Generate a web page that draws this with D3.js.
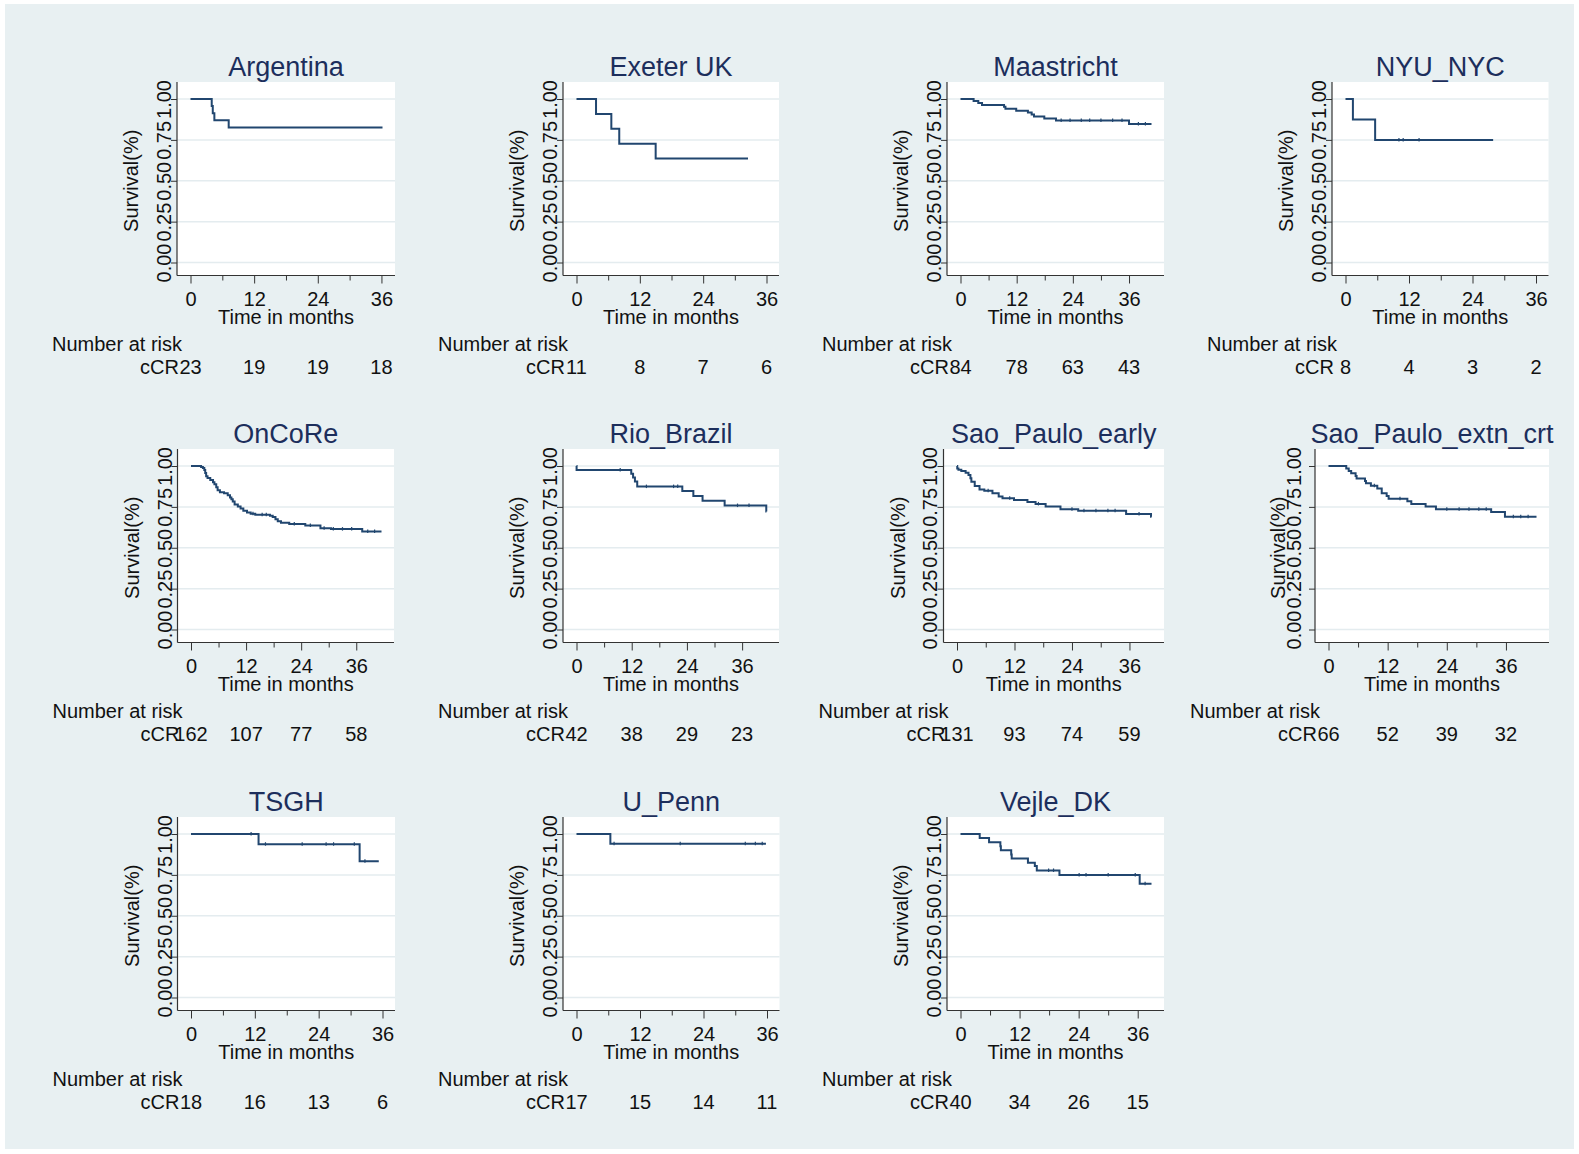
<!DOCTYPE html>
<html>
<head>
<meta charset="utf-8">
<script src="https://cdn.jsdelivr.net/npm/d3@7"></script>
<style>
  body { margin: 0; background: #fff; }
  text { font-family: "Liberation Sans", Arial, sans-serif; }
</style>
</head>
<body>
<svg id="chart" width="1579" height="1154"></svg>
<script>
// sites, in panel order
var sites = ["Argentina", "Exeter UK", "Maastricht", "NYU_NYC",
             "OnCoRe", "Rio_Brazil", "Sao_Paulo_early", "Sao_Paulo_extn_crt",
             "TSGH", "U_Penn", "Vejle_DK"];

// number at risk at 0, 12, 24, 36 months
var riskTimes = [0, 12, 24, 36];
var atRisk = [
  [23, 19, 19, 18], [11, 8, 7, 6], [84, 78, 63, 43], [8, 4, 3, 2],
  [162, 107, 77, 58], [42, 38, 29, 23], [131, 93, 74, 59], [66, 52, 39, 32],
  [18, 16, 13, 6], [17, 15, 14, 11], [40, 34, 26, 15]
];

// last follow-up time (months)
var followEnd = [36.2, 32.5, 40.8, 27.9, 41.5, 41.3, 40.6, 42.2, 35.3, 35.8, 38.8];

// KM steps: [time, survival after the drop]
var kmArgentina = [[0, 1], [4.0, 0.957], [4.2, 0.913], [4.5, 0.870], [7.2, 0.826]];
var kmExeter = [[0, 1], [3.7, 0.909], [6.6, 0.818], [8.1, 0.727], [15.0, 0.636]];
var kmMaastricht = [[0, 1], [2.8, 0.988], [3.8, 0.976], [4.6, 0.964], [9.3, 0.952], [9.6, 0.940],
  [11.9, 0.928], [14.4, 0.917], [15.2, 0.905], [15.7, 0.893], [17.9, 0.881], [20.4, 0.869], [36.0, 0.847]];
var kmNYU = [[0, 1], [1.4, 0.875], [5.6, 0.750]];
var kmOnCoRe = [[0, 1], [2.2, 0.994], [2.6, 0.988], [2.9, 0.975], [3.1, 0.957], [3.3, 0.938],
  [3.6, 0.926], [4.2, 0.914], [4.8, 0.901], [5.1, 0.889], [5.5, 0.870], [5.8, 0.852], [6.3, 0.840],
  [7.2, 0.833], [8.0, 0.821], [8.5, 0.808], [8.8, 0.796], [9.1, 0.783], [9.5, 0.765], [10.2, 0.752],
  [10.8, 0.740], [11.4, 0.727], [12.2, 0.715], [13.0, 0.708], [14.0, 0.702], [17.2, 0.695],
  [17.8, 0.688], [18.4, 0.675], [18.9, 0.662], [19.6, 0.653], [21.4, 0.646], [24.9, 0.636],
  [28.2, 0.620], [30.5, 0.614], [37.3, 0.600]];
var kmRio = [[0, 1], [0.02, 0.976], [11.9, 0.952], [12.3, 0.929], [12.7, 0.905], [13.2, 0.874],
  [23.0, 0.847], [25.4, 0.817], [27.4, 0.788], [32.2, 0.758], [41.25, 0.721]];
var kmSPearly = [[0, 1], [0.05, 0.985], [0.3, 0.977], [0.9, 0.970], [1.8, 0.958], [2.4, 0.945],
  [2.8, 0.925], [3.0, 0.904], [3.7, 0.878], [4.7, 0.857], [5.7, 0.849], [7.4, 0.833], [8.7, 0.813],
  [9.5, 0.802], [11.9, 0.792], [14.7, 0.780], [16.4, 0.768], [18.5, 0.752], [21.6, 0.735],
  [25.3, 0.727], [35.3, 0.707], [40.5, 0.690]];
var kmSPextn = [[0, 1], [3.6, 0.985], [4.1, 0.970], [4.6, 0.955], [5.5, 0.939], [5.7, 0.924],
  [7.4, 0.909], [7.6, 0.894], [8.6, 0.879], [9.9, 0.863], [10.8, 0.833], [11.8, 0.816],
  [12.2, 0.800], [16.0, 0.784], [16.8, 0.768], [19.7, 0.752], [21.8, 0.736], [33.0, 0.718],
  [35.8, 0.690]];
var kmTSGH = [[0, 1], [12.7, 0.9375], [31.7, 0.833]];
var kmPenn = [[0, 1], [6.4, 0.941]];
var kmVejle = [[0, 1], [3.9, 0.975], [5.8, 0.950], [8.1, 0.925], [8.2, 0.900], [10.3, 0.875],
  [10.4, 0.850], [13.7, 0.824], [15.1, 0.804], [15.5, 0.777], [20.1, 0.750], [36.4, 0.695]];

var curves = [kmArgentina, kmExeter, kmMaastricht, kmNYU, kmOnCoRe, kmRio,
              kmSPearly, kmSPextn, kmTSGH, kmPenn, kmVejle];

// censored times (tick marks)
var censored = [
  [],
  [],
  [21.5, 23.4, 25.8, 27.6, 30, 32.5, 34.5, 38, 39.5],
  [10.1, 10.9, 13.9],
  [13.5, 15.5, 16.4, 22.5, 26, 29, 31, 33, 35, 38.5, 40],
  [9.5, 15.2, 21.1, 22, 35, 37.5],
  [6.5, 11, 17, 24, 26.5, 29, 31.5, 33, 38],
  [9.3, 14.5, 24, 26.5, 28.5, 30.5, 32, 37.5, 39, 40.5],
  [11.3, 14.0, 20.9, 25.4, 26.8, 30.7, 32.7],
  [7.1, 19.6, 31.9, 33.8, 35.1],
  [17.9, 18.9, 24.1, 25.5, 30, 35.5, 37.5]
];

// layout of each panel (plot region edges, y of 1.00 per row, label gaps)
var plotLeft  = [177, 563, 947, 1332, 177.5, 563, 943.5, 1315, 177.5, 563, 947];
var plotRight = [395, 779, 1164, 1548.5, 394, 779, 1164, 1549, 395, 779.5, 1164];
var tickGap  = [6, 6, 6, 6, 6, 6, 7, 14, 6, 6, 6];
var titleGap = [39, 39, 39, 39, 39, 39, 39, 30, 39, 39, 39];
var rowTop = [99, 466, 834];
var unitH = 163.5;

var navy = "#21466f", titleCol = "#1c2e5c", ink = "#111";

var svg = d3.select("#chart");
svg.append("rect").attr("x", 5).attr("y", 4).attr("width", 1569).attr("height", 1145)
  .attr("fill", "#e8f0f2");

sites.forEach(function(name, i) {
  var row = Math.floor(i / 4);
  var L = plotLeft[i], R = plotRight[i];
  var y1 = rowTop[row], y0 = y1 + unitH;
  var top = y1 - 17, B = y0 + 13;

  var x = d3.scaleLinear().domain([0, Math.max(36, followEnd[i])]).range([L + 13.5, R - 12.5]);
  var y = d3.scaleLinear().domain([0, 1]).range([y0, y1]);

  var g = svg.append("g").attr("class", "panel");

  g.append("rect").attr("x", L).attr("y", top).attr("width", R - L).attr("height", B - top)
    .attr("fill", "#fff");

  // grid
  g.selectAll("line.grid").data([0, 0.25, 0.5, 0.75, 1]).enter().append("line")
    .attr("class", "grid")
    .attr("x1", L).attr("x2", R)
    .attr("y1", function(d) { return y(d); }).attr("y2", function(d) { return y(d); })
    .attr("stroke", "#e4ecef").attr("stroke-width", 1.5);

  // y axis
  var ya = g.append("g").attr("transform", "translate(" + L + ",0)")
    .call(d3.axisLeft(y).tickValues([0, 0.25, 0.5, 0.75, 1]).tickSize(6).tickFormat(d3.format(".2f")));
  ya.select(".domain").remove();
  ya.selectAll(".tick line").attr("stroke", "#333");
  ya.selectAll(".tick text")
    .attr("transform", "rotate(-90)")
    .attr("x", 0).attr("y", -tickGap[i]).attr("dy", 0)
    .attr("text-anchor", "middle")
    .attr("font-size", 20).attr("fill", ink);

  // x axis: major and minor ticks
  var xa = g.append("g").attr("transform", "translate(0," + B + ")")
    .call(d3.axisBottom(x).tickValues(riskTimes).tickSize(8).tickFormat(d3.format("d")));
  xa.select(".domain").remove();
  xa.selectAll(".tick line").attr("stroke", "#333");
  xa.selectAll(".tick text").attr("y", 30).attr("dy", 0)
    .attr("font-size", 20).attr("fill", ink);
  var xm = g.append("g").attr("transform", "translate(0," + B + ")")
    .call(d3.axisBottom(x).tickValues([6, 18, 30]).tickSize(5).tickFormat(""));
  xm.select(".domain").remove();
  xm.selectAll(".tick line").attr("stroke", "#333");

  // axis lines
  g.append("line").attr("x1", L).attr("x2", L).attr("y1", top).attr("y2", B)
    .attr("stroke", "#333").attr("stroke-width", 1.2);
  g.append("line").attr("x1", L).attr("x2", R).attr("y1", B).attr("y2", B)
    .attr("stroke", "#333").attr("stroke-width", 1.2);

  // KM curve
  var pts = curves[i].concat([[followEnd[i], curves[i][curves[i].length - 1][1]]]);
  var line = d3.line().x(function(d) { return x(d[0]); }).y(function(d) { return y(d[1]); })
    .curve(d3.curveStepAfter);
  g.append("path").datum(pts).attr("d", line)
    .attr("fill", "none").attr("stroke", navy).attr("stroke-width", 2);

  function survAt(t) {
    var s = 1;
    curves[i].forEach(function(p) { if (p[0] <= t) s = p[1]; });
    return s;
  }
  g.selectAll("line.cens").data(censored[i]).enter().append("line")
    .attr("class", "cens")
    .attr("x1", function(d) { return x(d); }).attr("x2", function(d) { return x(d); })
    .attr("y1", function(d) { return y(survAt(d)) - 2; })
    .attr("y2", function(d) { return y(survAt(d)) + 1.5; })
    .attr("stroke", navy).attr("stroke-width", 1.2);

  // titles
  g.append("text").attr("x", (L + R) / 2).attr("y", y1 - 23)
    .attr("text-anchor", "middle").attr("font-size", 27).attr("fill", titleCol).text(name);
  g.append("text").attr("transform", "translate(" + (L - titleGap[i]) + "," + ((y0 + y1) / 2) + ") rotate(-90)")
    .attr("text-anchor", "middle").attr("font-size", 20).attr("fill", ink).text("Survival(%)");
  g.append("text").attr("x", (L + R) / 2).attr("y", B + 48)
    .attr("text-anchor", "middle").attr("font-size", 20).attr("fill", ink).text("Time in months");

  // number at risk table
  g.append("text").attr("x", L - 125).attr("y", B + 75)
    .attr("font-size", 20).attr("fill", ink).text("Number at risk");
  g.append("text").attr("x", L + 2).attr("y", B + 98).attr("text-anchor", "end")
    .attr("font-size", 20).attr("fill", ink).text("cCR");
  g.selectAll("text.risk").data(atRisk[i]).enter().append("text")
    .attr("class", "risk")
    .attr("x", function(d, k) { return x(riskTimes[k]); }).attr("y", B + 98)
    .attr("text-anchor", "middle").attr("font-size", 20).attr("fill", ink)
    .text(function(d) { return d; });
});
</script>
</body>
</html>
